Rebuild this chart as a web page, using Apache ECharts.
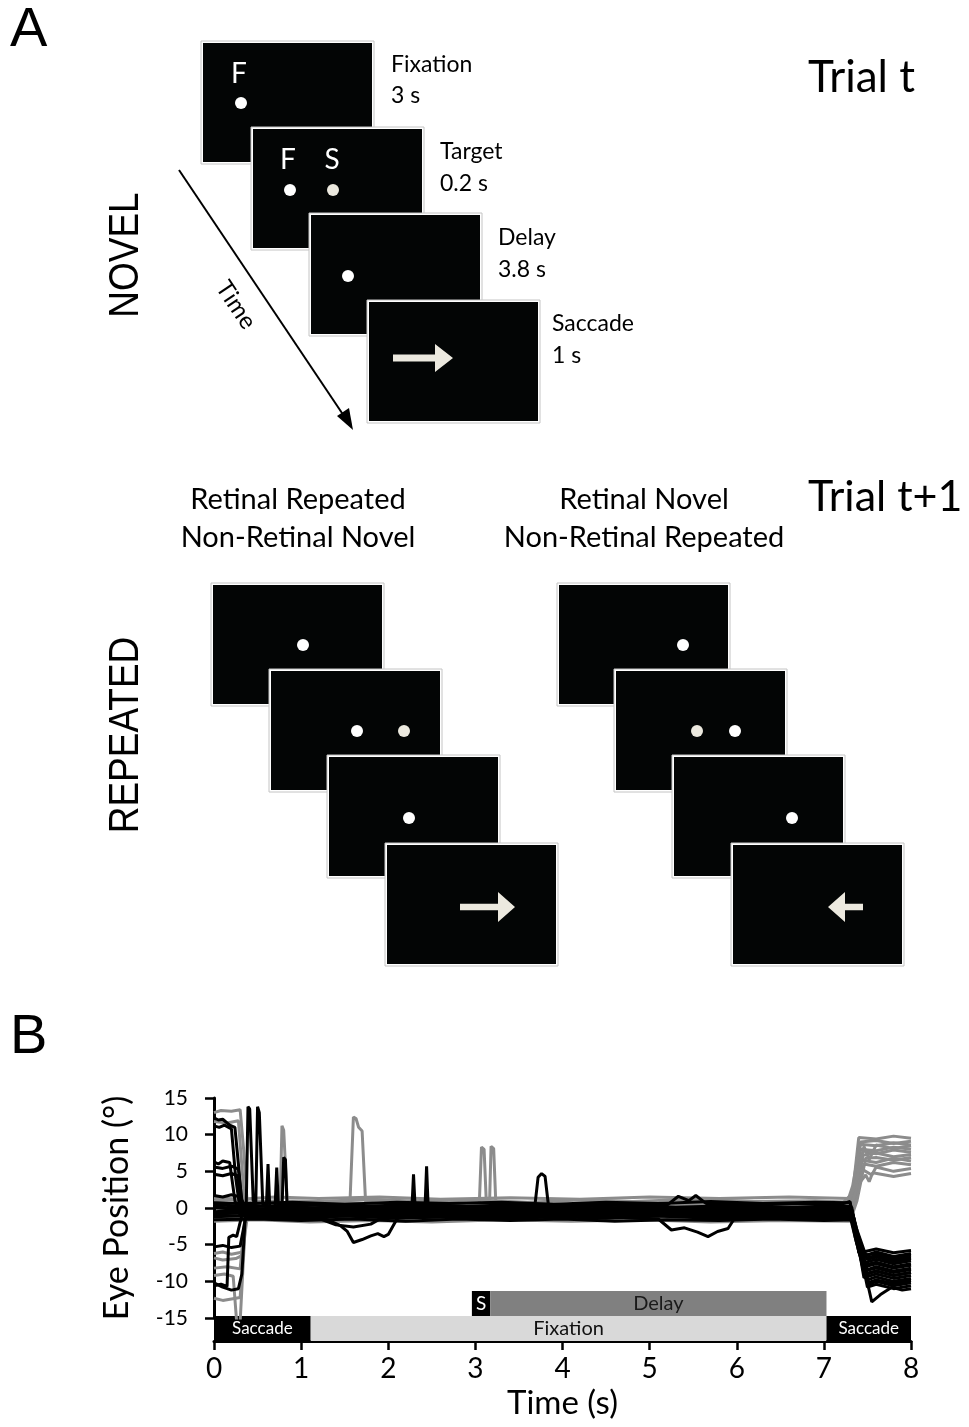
<!DOCTYPE html>
<html>
<head>
<meta charset="utf-8">
<script src="https://cdn.jsdelivr.net/npm/echarts@6/dist/echarts.min.js"></script>
<style>
  html, body { margin: 0; padding: 0; background: #fff; }
  #chart { width: 969px; height: 1427px; }
</style>
</head>
<body>
<div id="chart"></div>
<script>
// ---- panel B data ----
const timeTicks = [0, 1, 2, 3, 4, 5, 6, 7, 8];
const posTicks = [-15, -10, -5, 0, 5, 10, 15];

// task phases along the bottom of panel B
const phaseLabels = ['Saccade', 'Fixation', 'Saccade'];
const phaseStart = [0, 1.11, 7.03];
const phaseEnd = [1.11, 7.03, 8];
const eventLabels = ['S', 'Delay'];
const eventStart = [2.96, 3.17];
const eventEnd = [3.17, 7.03];

// gray traces (saccade ends up, positive)
const grayTraces = [
    [[0,13.0],[0.08,13.3],[0.2,13.2],[0.3,13.4],[0.34,8],[0.38,0.8],[0.6,0.9],[1,0.6],[1.5,0.8],[2,0.5],[2.6,0.7],[3.2,0.4],[3.8,0.6],[4.4,0.3],[5,0.5],[5.6,0.7],[6.2,0.4],[6.8,0.6],[7.2,0.5],[7.33,2],[7.4,9.6],[7.6,9.4],[7.8,9.8],[8,9.5]],
    [[0,-12.3],[0.1,-12.6],[0.2,-12.4],[0.3,-12.2],[0.35,-4],[0.38,-1.4],[0.7,-1.5],[1.2,-1.3],[1.8,-1.6],[2.4,-1.3],[3,-1.5],[3.6,-1.2],[4.2,-1.5],[4.8,-1.3],[5.4,-1.6],[6,-1.3],[6.6,-1.4],[7.2,-1.3],[7.32,0],[7.42,8.7],[7.6,8.5],[7.8,8.9],[8,8.6]],
    [[0,-6.8],[0.1,-7.1],[0.25,-6.9],[0.32,-6.5],[0.36,-1],[0.8,-0.8],[1.3,-1.1],[2,-0.9],[2.8,-1.2],[3.5,-0.9],[4.3,-1.1],[5,-0.8],[5.8,-1.1],[6.5,-0.9],[7.25,-1],[7.35,1],[7.45,7.2],[7.6,7.5],[7.8,7.0],[8,7.3]],
    [[0,-9.2],[0.12,-9.0],[0.22,-9.3],[0.26,-15.5],[0.3,-15.5],[0.36,-2],[0.4,-0.5],[0.9,-0.3],[1.5,-0.6],[2.2,-0.4],[2.9,-0.7],[3.6,-0.4],[4.4,-0.6],[5.2,-0.3],[6,-0.6],[6.8,-0.4],[7.28,-0.5],[7.36,2],[7.45,5.2],[7.55,4.5],[7.6,5.6],[7.8,5.0],[8,5.4]],
    [[0,0.3],[0.3,0.5],[0.6,0.2],[1,0.5],[1.5,0.4],[1.56,0.6],[1.6,12.4],[1.63,12.2],[1.66,11],[1.7,10.5],[1.74,0.8],[2.1,0.6],[2.7,0.3],[3.3,0.6],[4,0.4],[4.6,0.7],[5.3,0.4],[6,0.6],[6.7,0.3],[7.28,0.4],[7.36,4],[7.44,6.5],[7.6,6.2],[7.8,6.8],[8,6.4]],
    [[0,1.0],[0.2,1.2],[0.4,0.8],[0.7,1.0],[0.76,1.1],[0.78,11.2],[0.8,10.6],[0.84,1.0],[1.2,0.9],[1.8,1.2],[2.4,0.9],[3,1.1],[3.6,0.8],[4.2,1.1],[4.8,0.9],[5.5,1.2],[6.2,0.9],[6.9,1.0],[7.3,0.8],[7.36,3],[7.42,8.0],[7.6,7.8],[7.8,8.3],[8,8.0]],
    [[0,-1.4],[0.4,-1.2],[0.9,-1.5],[1.5,-1.2],[2.1,-1.4],[2.7,-1.1],[3.04,-1.0],[3.07,8.3],[3.1,8.0],[3.13,-0.5],[3.16,-0.5],[3.18,8.4],[3.21,8.1],[3.24,-1.0],[3.7,-1.3],[4.3,-1.1],[5,-1.4],[5.6,-1.1],[6.3,-1.3],[7,-1.2],[7.3,-1.3],[7.38,2],[7.46,6.0],[7.6,5.7],[7.8,6.2],[8,5.9]],
    [[0,-6.2],[0.1,-6.0],[0.2,-6.3],[0.33,-6.0],[0.37,-0.6],[1,-0.4],[1.6,-0.7],[2.3,-0.5],[3,-0.8],[3.7,-0.5],[4.5,-0.7],[5.2,-0.4],[6,-0.7],[6.7,-0.5],[7.3,-0.6],[7.38,3],[7.48,4.5],[7.52,3.6],[7.56,4.8],[7.8,4.3],[8,4.7]],
    [[0,11.8],[0.15,11.6],[0.28,11.9],[0.35,1],[0.42,0.2],[1,0.0],[1.7,0.3],[2.4,0.0],[3.1,0.2],[3.8,-0.1],[4.5,0.2],[5.2,0.0],[5.9,0.3],[6.6,0.0],[7.25,0.1],[7.33,3],[7.42,9.0],[7.6,9.2],[7.8,8.8],[8,9.1]],
    [[0,-8.2],[0.15,-8.0],[0.3,-8.3],[0.35,-2],[0.4,-0.9],[1,-1.1],[1.7,-0.8],[2.5,-1.0],[3.3,-0.7],[4.1,-1.0],[4.9,-0.8],[5.7,-1.1],[6.5,-0.8],[7.28,-0.9],[7.36,2],[7.45,7.8],[7.6,7.4],[7.8,7.9],[8,7.6]],
    [[0,1.4],[0.3,1.2],[0.7,1.5],[1.2,1.3],[1.9,1.5],[2.6,1.2],[3.4,1.4],[4.2,1.2],[5,1.5],[5.8,1.3],[6.6,1.5],[7.3,1.3],[7.38,4],[7.46,8.4],[7.52,6.6],[7.6,8.6],[7.8,8.1],[8,8.5]],
    [[0,-1.8],[0.5,-1.6],[1.1,-1.9],[1.8,-1.7],[2.5,-1.9],[3.3,-1.6],[4.1,-1.8],[4.9,-1.6],[5.7,-1.9],[6.5,-1.7],[7.3,-1.8],[7.38,1],[7.48,6.8],[7.6,6.9],[7.8,6.5],[8,6.9]]
];

// black traces (saccade ends down, negative)
const blackTraces = [
    [[0,12.3],[0.05,12.0],[0.1,12.1],[0.18,11.3],[0.24,11.0],[0.28,6],[0.32,0.5],[0.6,0.2],[1.1,0.4],[1.7,0.1],[2.3,0.3],[2.9,0.0],[3.5,0.3],[4.1,0.1],[4.7,0.4],[5.3,0.1],[5.9,0.3],[6.5,0.0],[7.1,0.3],[7.3,0.2],[7.36,-3],[7.45,-6.0],[7.6,-5.6],[7.8,-6.1],[8,-5.8]],
    [[0,11.2],[0.06,11.0],[0.12,11.3],[0.2,10.8],[0.25,4],[0.3,-0.3],[0.8,-0.5],[1.4,-0.2],[2,-0.5],[2.6,-0.3],[3.2,-0.6],[3.8,-0.3],[4.4,-0.5],[5,-0.2],[5.6,-0.5],[6.2,-0.3],[6.8,-0.5],[7.3,-0.4],[7.36,-4],[7.46,-8.6],[7.6,-8.2],[7.8,-8.8],[8,-8.4]],
    [[0,6.3],[0.05,6.0],[0.1,6.4],[0.18,6.2],[0.24,1],[0.3,-1.0],[0.8,-1.2],[1.3,-0.9],[1.9,-1.2],[2.5,-1.0],[3.1,-1.3],[3.7,-1.0],[4.3,-1.2],[4.9,-0.9],[5.5,-1.2],[6.1,-1.0],[6.7,-1.3],[7.3,-1.1],[7.38,-5],[7.48,-7.4],[7.6,-7.0],[7.8,-7.6],[8,-7.2]],
    [[0,5.6],[0.1,5.4],[0.2,5.7],[0.28,5.3],[0.33,0],[0.5,-0.3],[0.6,-0.2],[0.62,6.0],[0.64,0.2],[0.7,-0.1],[0.72,5.5],[0.74,0],[1.2,-0.3],[1.8,0.0],[2.4,-0.3],[3,0.0],[3.6,-0.3],[4.2,-0.1],[4.8,-0.4],[5.4,-0.1],[6,-0.3],[6.6,0.0],[7.3,-0.2],[7.38,-4],[7.46,-9.5],[7.6,-9.0],[7.8,-9.6],[8,-9.2]],
    [[0,4.6],[0.1,4.4],[0.2,4.7],[0.27,4.4],[0.32,0],[0.5,-0.8],[1,-0.6],[1.6,-0.9],[2.2,-0.6],[2.8,-0.9],[3.4,-0.7],[4,-1.0],[4.6,-0.7],[5.2,-0.9],[5.8,-0.6],[6.4,-0.9],[7,-0.7],[7.32,-0.8],[7.4,-5],[7.5,-10.2],[7.6,-9.8],[7.8,-10.3],[8,-9.9]],
    [[0,1.7],[0.1,1.5],[0.2,1.8],[0.3,1.5],[0.36,0.2],[0.6,-0.4],[0.78,-0.3],[0.8,6.9],[0.82,6.6],[0.84,-0.2],[1.3,-0.5],[1.9,-0.2],[2.5,-0.5],[3.1,-0.3],[3.7,-0.6],[4.3,-0.3],[4.9,-0.5],[5.5,-0.2],[6.1,-0.5],[6.7,-0.3],[7.32,-0.4],[7.4,-4],[7.48,-6.8],[7.6,-6.5],[7.8,-7.1],[8,-6.7]],
    [[0,0.2],[0.15,0.0],[0.3,0.3],[0.37,0.2],[0.39,13.8],[0.41,13.5],[0.45,1.0],[0.48,0.8],[0.5,13.8],[0.52,13.0],[0.56,0.5],[0.9,-0.5],[1.5,-0.8],[2.1,-0.5],[2.7,-0.8],[3.3,-0.5],[3.9,-0.8],[4.5,-0.6],[5.1,-0.9],[5.7,-0.6],[6.3,-0.8],[6.9,-0.5],[7.32,-0.6],[7.4,-5],[7.48,-8.0],[7.6,-7.6],[7.8,-8.2],[8,-7.8]],
    [[0,-10.6],[0.08,-10.4],[0.15,-10.7],[0.17,-4.0],[0.22,-3.7],[0.26,-3.9],[0.32,-1],[0.4,-1.2],[0.9,-1.4],[1.5,-1.1],[2.1,-1.4],[2.7,-1.2],[3.3,-1.5],[3.9,-1.2],[4.5,-1.4],[5.1,-1.1],[5.7,-1.4],[6.3,-1.2],[6.9,-1.4],[7.34,-1.3],[7.4,-6],[7.5,-9.0],[7.6,-8.6],[7.8,-9.2],[8,-8.8]],
    [[0,-5.3],[0.1,-5.1],[0.2,-5.4],[0.3,-5.2],[0.36,-1.5],[0.42,-0.8],[1,-1.0],[1.6,-0.7],[2.2,-1.0],[2.8,-0.8],[3.4,-1.1],[4,-0.8],[4.6,-1.0],[5.2,-0.7],[5.8,-1.0],[6.4,-0.8],[7,-1.0],[7.33,-0.9],[7.4,-6],[7.5,-6.4],[7.6,-6.0],[7.8,-6.6],[8,-6.2]],
    [[0,-10.2],[0.1,-10.8],[0.2,-11.2],[0.28,-11.0],[0.32,-9],[0.36,-1.0],[0.8,-0.2],[1.4,0.1],[2,-0.2],[2.6,0.1],[3.2,-0.2],[3.8,0.0],[4.4,-0.3],[5,0.0],[5.6,-0.2],[6.2,0.1],[6.8,-0.2],[7.3,0.0],[7.38,-4],[7.46,-7.8],[7.6,-7.4],[7.8,-8.0],[8,-7.6]],
    [[0,-0.5],[0.3,-0.3],[0.6,-0.6],[1.2,-0.3],[1.8,-0.6],[2.27,-0.4],[2.29,4.6],[2.31,-0.3],[2.42,-0.5],[2.44,5.7],[2.46,-0.4],[3,-0.7],[3.6,-0.4],[4.2,-0.7],[4.8,-0.4],[5.4,-0.6],[6,-0.3],[6.6,-0.6],[7.32,-0.5],[7.4,-5],[7.5,-8.4],[7.6,-8.0],[7.8,-8.6],[8,-8.2]],
    [[0,0.0],[0.4,-0.2],[1,0.1],[1.6,-0.2],[2.2,0.1],[2.8,-0.1],[3.4,0.2],[3.68,0.0],[3.72,4.2],[3.76,4.7],[3.8,4.3],[3.84,0.2],[4.3,-0.1],[4.9,0.2],[5.5,-0.1],[6.1,0.2],[6.7,0.0],[7.32,0.1],[7.4,-5],[7.5,-10.8],[7.6,-10.4],[7.8,-11.0],[8,-10.6]],
    [[0,-0.8],[0.4,-0.6],[0.8,-0.9],[1.1,-0.8],[1.3,-1.6],[1.45,-2.4],[1.53,-3.2],[1.6,-4.7],[1.7,-4.3],[1.8,-3.8],[1.88,-3.5],[1.95,-3.9],[2.0,-3.6],[2.1,-1.5],[2.2,-0.8],[2.8,-1.0],[3.4,-0.7],[4,-1.0],[4.6,-0.8],[5.2,-1.1],[5.8,-0.8],[6.4,-1.0],[7,-0.8],[7.33,-0.9],[7.4,-5],[7.5,-7.0],[7.6,-6.7],[7.8,-7.3],[8,-6.9]],
    [[0,-1.2],[0.5,-1.0],[1.1,-1.3],[1.7,-1.0],[2.3,-1.3],[2.9,-1.1],[3.5,-1.3],[4.1,-1.0],[4.7,-1.3],[5.1,-1.5],[5.25,-3.0],[5.4,-2.7],[5.55,-3.3],[5.67,-3.9],[5.78,-3.2],[5.9,-2.8],[5.97,-1.5],[6.5,-1.2],[7,-1.4],[7.34,-1.2],[7.42,-6],[7.55,-12.8],[7.65,-11.8],[7.78,-10.8],[7.9,-11.2],[8,-11.0]],
    [[0,0.4],[0.5,0.2],[1.1,0.5],[1.7,0.2],[2.3,0.5],[2.9,0.2],[3.5,0.5],[4.1,0.3],[4.7,0.6],[5.2,0.4],[5.33,1.6],[5.45,1.0],[5.53,1.7],[5.65,0.6],[6.2,0.4],[6.8,0.6],[7.2,0.5],[7.3,0.9],[7.36,-3],[7.46,-9.0],[7.6,-8.6],[7.8,-9.2],[8,-8.8]],
    [[0,-1.0],[0.4,-1.1],[0.9,-0.9],[1.2,-1.4],[1.4,-2.3],[1.6,-2.6],[1.8,-2.2],[1.95,-1.2],[2.5,-1.1],[3.1,-0.9],[3.7,-1.2],[4.3,-0.9],[4.9,-1.1],[5.5,-0.9],[6.1,-1.2],[6.7,-0.9],[7.33,-1.0],[7.4,-5],[7.5,-9.8],[7.6,-9.4],[7.8,-10.0],[8,-9.6]],
    [[0,0.7],[0.4,0.6],[0.9,0.8],[1.5,0.5],[2.1,0.8],[2.7,0.6],[3.3,0.8],[3.9,0.5],[4.5,0.8],[5.1,0.6],[5.7,0.9],[6.3,0.6],[6.9,0.8],[7.3,0.7],[7.38,-3],[7.48,-6.4],[7.6,-6.2],[7.8,-6.8],[8,-6.4]],
    [[0,-1.6],[0.5,-1.5],[1.0,-1.7],[1.6,-1.5],[2.2,-1.8],[2.8,-1.5],[3.4,-1.7],[4.0,-1.5],[4.6,-1.8],[5.2,-1.6],[5.8,-1.7],[6.4,-1.5],[7.0,-1.7],[7.34,-1.6],[7.42,-6],[7.52,-10.4],[7.6,-10.0],[7.8,-10.6],[8,-10.2]]
];

// ---- panel A schematic layout ----
const FONT = 'Lato, "Open Sans", sans-serif';
const SW = 169, SH = 119;
const OFF_WHITE = '#ece9df';

function screen(x, y) {
    return [
        { type: 'rect', shape: { x: x - 2, y: y - 2, width: SW + 4, height: SH + 4 }, style: { fill: '#fff', stroke: '#c4c4c4', lineWidth: 1 } },
        { type: 'rect', shape: { x: x, y: y, width: SW, height: SH }, style: { fill: '#030505' } }
    ];
}
function dot(x, y, color) {
    return { type: 'circle', shape: { cx: x, cy: y, r: 6 }, style: { fill: color || '#fff' } };
}
function txt(x, y, s, size, opts) {
    opts = opts || {};
    return {
        type: 'text', x: x, y: y, rotation: opts.rotation || 0,
        scaleX: opts.scaleX || 1,
        style: {
            text: s, fill: opts.color || '#000',
            font: (opts.weight || 'normal') + ' ' + size + 'px ' + (opts.family || FONT),
            textAlign: opts.align || 'left', textVerticalAlign: 'middle'
        }
    };
}
function arrow(x0, xb, xt, y, hs, hh) {
    return { type: 'polygon', shape: { points: [[x0, y - hs], [xb, y - hs], [xb, y - hh], [xt, y], [xb, y + hh], [xb, y + hs], [x0, y + hs]] }, style: { fill: OFF_WHITE } };
}

const graphics = [];
// novel sequence
graphics.push(...screen(203, 43), dot(241, 103), txt(239, 74, 'F', 28, { color: '#fff', align: 'center' }));
graphics.push(...screen(253, 129), dot(290, 190), dot(333, 190, OFF_WHITE),
    txt(288, 160, 'F', 28, { color: '#fff', align: 'center' }), txt(332, 160, 'S', 28, { color: '#fff', align: 'center' }));
graphics.push(...screen(311, 215), dot(348, 276));
graphics.push(...screen(369, 302), arrow(393, 435, 453, 358, 3.5, 14));
graphics.push(
    txt(391, 65, 'Fixation', 23), txt(391, 96, '3 s', 23),
    txt(440, 152, 'Target', 23), txt(440, 184, '0.2 s', 23),
    txt(498, 238, 'Delay', 23), txt(498, 270, '3.8 s', 23),
    txt(552, 324, 'Saccade', 23), txt(552, 356, '1 s', 23)
);
// time arrow
graphics.push(
    { type: 'line', shape: { x1: 179, y1: 170, x2: 346, y2: 419 }, style: { stroke: '#000', lineWidth: 2 } },
    { type: 'polygon', shape: { points: [[353, 430], [337, 416], [349, 408]] }, style: { fill: '#000' } },
    txt(236, 305, 'Time', 24, { rotation: -0.98, align: 'center' })
);
// repeated, left set
graphics.push(...screen(213, 585), dot(303, 645));
graphics.push(...screen(271, 671), dot(357, 731), dot(404, 731, OFF_WHITE));
graphics.push(...screen(329, 757), dot(409, 818));
graphics.push(...screen(387, 845), arrow(460, 498, 515, 907, 3.3, 15));
// repeated, right set
graphics.push(...screen(559, 585), dot(683, 645));
graphics.push(...screen(616, 671), dot(697, 731, OFF_WHITE), dot(735, 731));
graphics.push(...screen(674, 757), dot(792, 818));
graphics.push(...screen(733, 845), arrow(863, 845, 828, 907, 3.3, 15));
// headings
graphics.push(
    txt(298, 500, 'Retinal Repeated', 29, { align: 'center' }),
    txt(298, 538, 'Non-Retinal Novel', 29, { align: 'center' }),
    txt(644, 500, 'Retinal Novel', 29, { align: 'center' }),
    txt(644, 538, 'Non-Retinal Repeated', 29, { align: 'center' }),
    txt(808, 78, 'Trial t', 44),
    txt(808, 497, 'Trial t+1', 43),
    txt(126, 255, 'NOVEL', 43, { rotation: Math.PI / 2, align: 'center', family: '"Liberation Sans", Arial, sans-serif', scaleX: 0.86 }),
    txt(126, 735, 'REPEATED', 43, { rotation: Math.PI / 2, align: 'center', family: '"Liberation Sans", Arial, sans-serif', scaleX: 0.86 }),
    txt(10, 31, 'A', 56, { family: '"Liberation Sans", Arial, sans-serif' }),
    txt(10, 1038, 'B', 56, { family: '"Liberation Sans", Arial, sans-serif' })
);

// ---- chart ----
const chart = echarts.init(document.getElementById('chart'), null, { renderer: 'canvas' });

const phaseStyle = {
    'Saccade': { fill: '#000', text: '#fff', size: 17 },
    'Fixation': { fill: '#d9d9d9', text: '#111', size: 20 },
    'S': { fill: '#000', text: '#fff', size: 19 },
    'Delay': { fill: '#808080', text: '#1a1a1a', size: 20 }
};

function barRenderer(labels) {
    return function (params, api) {
        const row = api.value(2);
        const p0 = api.coord([api.value(0), row]);
        const p1 = api.coord([api.value(1), row + 1]);
        const name = labels[params.dataIndex];
        const st = phaseStyle[name];
        return {
            type: 'group',
            children: [
                { type: 'rect', shape: { x: p0[0], y: p1[1], width: p1[0] - p0[0], height: p0[1] - p1[1] }, style: { fill: st.fill } },
                {
                    type: 'text',
                    x: (p0[0] + p1[0]) / 2, y: (p0[1] + p1[1]) / 2,
                    style: { text: name, fill: st.text, font: st.size + 'px ' + FONT, align: 'center', verticalAlign: 'middle' }
                }
            ]
        };
    };
}

const traceSeries = [];
grayTraces.forEach(function (d) {
    traceSeries.push({ type: 'line', xAxisIndex: 0, yAxisIndex: 0, data: d, symbol: 'none', silent: true, lineStyle: { color: '#8c8c8c', width: 3 } });
});
blackTraces.forEach(function (d) {
    traceSeries.push({ type: 'line', xAxisIndex: 0, yAxisIndex: 0, data: d, symbol: 'none', silent: true, lineStyle: { color: '#000', width: 3 } });
});

const option = {
    animation: false,
    backgroundColor: '#fff',
    grid: [
        { left: 214, top: 1098, width: 697, height: 220, outerBoundsMode: 'none', containLabel: false },
        { left: 214, top: 1291, width: 697, height: 50, outerBoundsMode: 'none', containLabel: false }
    ],
    xAxis: [
        { gridIndex: 0, type: 'value', min: 0, max: 8, show: false },
        {
            gridIndex: 1, type: 'value', min: 0, max: 8, interval: 1,
            axisLine: { show: true, lineStyle: { color: '#000', width: 3 } },
            axisTick: { show: true, length: 9, lineStyle: { color: '#000', width: 2.5 } },
            axisLabel: { color: '#000', fontSize: 28, fontFamily: FONT, margin: 14, formatter: function (v) { return timeTicks.indexOf(v) >= 0 ? String(v) : ''; } },
            splitLine: { show: false },
            name: 'Time (s)', nameLocation: 'middle', nameGap: 46,
            nameTextStyle: { color: '#000', fontSize: 33, fontFamily: FONT }
        }
    ],
    yAxis: [
        {
            gridIndex: 0, type: 'value', min: -15, max: 15, interval: 5,
            axisLine: { show: true, lineStyle: { color: '#000', width: 3 } },
            axisTick: { show: true, length: 9, lineStyle: { color: '#000', width: 2.5 } },
            axisLabel: { color: '#000', fontSize: 21, fontFamily: FONT, margin: 26, formatter: function (v) { return posTicks.indexOf(v) >= 0 ? String(v) : ''; } },
            splitLine: { show: false },
            name: 'Eye Position (°)', nameLocation: 'middle', nameGap: 80,
            nameTextStyle: { color: '#000', fontSize: 34, fontFamily: FONT }
        },
        { gridIndex: 1, type: 'value', min: 0, max: 2, show: false }
    ],
    series: traceSeries.concat([
        {
            type: 'custom', xAxisIndex: 1, yAxisIndex: 1, silent: true,
            renderItem: barRenderer(phaseLabels),
            encode: { x: [0, 1], y: 2 },
            data: phaseStart.map(function (s, i) { return [s, phaseEnd[i], 0]; }),
            z: 1
        },
        {
            type: 'custom', xAxisIndex: 1, yAxisIndex: 1, silent: true,
            renderItem: barRenderer(eventLabels),
            encode: { x: [0, 1], y: 2 },
            data: eventStart.map(function (s, i) { return [s, eventEnd[i], 1]; }),
            z: 1
        }
    ]),
    graphic: graphics
};

chart.setOption(option);
</script>
</body>
</html>
